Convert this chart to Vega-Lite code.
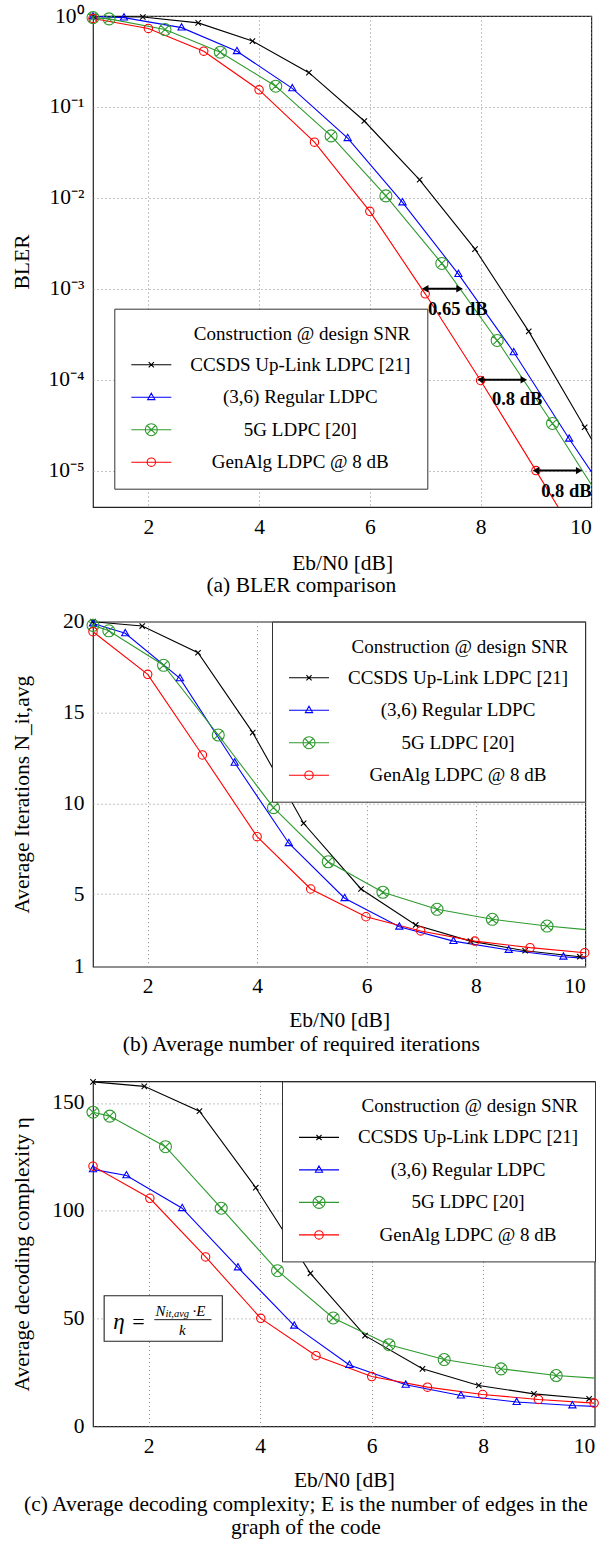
{
 "$schema": "https://vega.github.io/schema/vega-lite/v6.json",
 "padding": {"left": 10, "top": 4, "right": 0, "bottom": 0},
 "background": "white",
 "spacing": 12.7,
 "datasets": {
  "bler": [
   {"code": "CCSDS Up-Link LDPC [21]", "snr": 1, "val": 0.99},
   {"code": "CCSDS Up-Link LDPC [21]", "snr": 1.9, "val": 0.975},
   {"code": "CCSDS Up-Link LDPC [21]", "snr": 2.9, "val": 0.84},
   {"code": "CCSDS Up-Link LDPC [21]", "snr": 3.88, "val": 0.53},
   {"code": "CCSDS Up-Link LDPC [21]", "snr": 4.9, "val": 0.238},
   {"code": "CCSDS Up-Link LDPC [21]", "snr": 5.9, "val": 0.07},
   {"code": "CCSDS Up-Link LDPC [21]", "snr": 6.9, "val": 0.0158},
   {"code": "CCSDS Up-Link LDPC [21]", "snr": 7.9, "val": 0.00273},
   {"code": "CCSDS Up-Link LDPC [21]", "snr": 8.87, "val": 0.00034},
   {"code": "CCSDS Up-Link LDPC [21]", "snr": 9.88, "val": 0.00003},
   {"code": "CCSDS Up-Link LDPC [21]", "snr": 10.9, "val": 0.0000026},
   {"code": "(3,6) Regular LDPC", "snr": 1, "val": 0.99},
   {"code": "(3,6) Regular LDPC", "snr": 1.56, "val": 0.96},
   {"code": "(3,6) Regular LDPC", "snr": 2.6, "val": 0.745},
   {"code": "(3,6) Regular LDPC", "snr": 3.6, "val": 0.41},
   {"code": "(3,6) Regular LDPC", "snr": 4.6, "val": 0.16},
   {"code": "(3,6) Regular LDPC", "snr": 5.6, "val": 0.0453},
   {"code": "(3,6) Regular LDPC", "snr": 6.59, "val": 0.0089},
   {"code": "(3,6) Regular LDPC", "snr": 7.6, "val": 0.00145},
   {"code": "(3,6) Regular LDPC", "snr": 8.6, "val": 0.0002},
   {"code": "(3,6) Regular LDPC", "snr": 9.6, "val": 0.0000224},
   {"code": "(3,6) Regular LDPC", "snr": 10.6, "val": 0.0000028},
   {"code": "5G LDPC [20]", "snr": 1, "val": 0.96},
   {"code": "5G LDPC [20]", "snr": 1.29, "val": 0.93},
   {"code": "5G LDPC [20]", "snr": 2.3, "val": 0.71},
   {"code": "5G LDPC [20]", "snr": 3.3, "val": 0.4},
   {"code": "5G LDPC [20]", "snr": 4.3, "val": 0.169},
   {"code": "5G LDPC [20]", "snr": 5.3, "val": 0.048},
   {"code": "5G LDPC [20]", "snr": 6.29, "val": 0.0105},
   {"code": "5G LDPC [20]", "snr": 7.3, "val": 0.0019},
   {"code": "5G LDPC [20]", "snr": 8.3, "val": 0.00027},
   {"code": "5G LDPC [20]", "snr": 9.3, "val": 0.000033},
   {"code": "5G LDPC [20]", "snr": 10.3, "val": 0.0000036},
   {"code": "GenAlg LDPC @ 8 dB", "snr": 1, "val": 0.94},
   {"code": "GenAlg LDPC @ 8 dB", "snr": 2, "val": 0.73},
   {"code": "GenAlg LDPC @ 8 dB", "snr": 3, "val": 0.41},
   {"code": "GenAlg LDPC @ 8 dB", "snr": 4, "val": 0.154},
   {"code": "GenAlg LDPC @ 8 dB", "snr": 5, "val": 0.041},
   {"code": "GenAlg LDPC @ 8 dB", "snr": 6, "val": 0.0071},
   {"code": "GenAlg LDPC @ 8 dB", "snr": 7, "val": 0.00088},
   {"code": "GenAlg LDPC @ 8 dB", "snr": 8, "val": 0.000098},
   {"code": "GenAlg LDPC @ 8 dB", "snr": 9, "val": 0.00001},
   {"code": "GenAlg LDPC @ 8 dB", "snr": 10, "val": 0.000001}
  ],
  "gaps": [
   {"x1": 7.0, "x2": 7.62, "y": 0.001, "label": "0.65 dB", "lx": 7.59, "ly": 0.000598},
   {"x1": 8.0, "x2": 8.78, "y": 0.0001, "label": "0.8 dB", "lx": 8.66, "ly": 0.0000614},
   {"x1": 9.0, "x2": 9.78, "y": 0.00001, "label": "0.8 dB", "lx": 9.55, "ly": 0.000006}
  ],
  "iter": [
   {"code": "CCSDS Up-Link LDPC [21]", "snr": 1, "val": 20},
   {"code": "CCSDS Up-Link LDPC [21]", "snr": 1.9, "val": 19.76},
   {"code": "CCSDS Up-Link LDPC [21]", "snr": 2.92, "val": 18.29},
   {"code": "CCSDS Up-Link LDPC [21]", "snr": 3.92, "val": 13.89},
   {"code": "CCSDS Up-Link LDPC [21]", "snr": 4.85, "val": 8.9},
   {"code": "CCSDS Up-Link LDPC [21]", "snr": 5.9, "val": 5.28},
   {"code": "CCSDS Up-Link LDPC [21]", "snr": 6.9, "val": 3.3},
   {"code": "CCSDS Up-Link LDPC [21]", "snr": 7.9, "val": 2.41},
   {"code": "CCSDS Up-Link LDPC [21]", "snr": 8.9, "val": 1.88},
   {"code": "CCSDS Up-Link LDPC [21]", "snr": 9.9, "val": 1.55},
   {"code": "CCSDS Up-Link LDPC [21]", "snr": 10.9, "val": 1.35},
   {"code": "(3,6) Regular LDPC", "snr": 1, "val": 19.9},
   {"code": "(3,6) Regular LDPC", "snr": 1.59, "val": 19.36},
   {"code": "(3,6) Regular LDPC", "snr": 2.59, "val": 16.88},
   {"code": "(3,6) Regular LDPC", "snr": 3.59, "val": 12.23},
   {"code": "(3,6) Regular LDPC", "snr": 4.58, "val": 7.8},
   {"code": "(3,6) Regular LDPC", "snr": 5.6, "val": 4.77},
   {"code": "(3,6) Regular LDPC", "snr": 6.6, "val": 3.2},
   {"code": "(3,6) Regular LDPC", "snr": 7.59, "val": 2.41},
   {"code": "(3,6) Regular LDPC", "snr": 8.6, "val": 1.92},
   {"code": "(3,6) Regular LDPC", "snr": 9.6, "val": 1.55},
   {"code": "(3,6) Regular LDPC", "snr": 10.6, "val": 1.33},
   {"code": "5G LDPC [20]", "snr": 1, "val": 19.8},
   {"code": "5G LDPC [20]", "snr": 1.29, "val": 19.5},
   {"code": "5G LDPC [20]", "snr": 2.29, "val": 17.6},
   {"code": "5G LDPC [20]", "snr": 3.29, "val": 13.76},
   {"code": "5G LDPC [20]", "snr": 4.3, "val": 9.76},
   {"code": "5G LDPC [20]", "snr": 5.3, "val": 6.78},
   {"code": "5G LDPC [20]", "snr": 6.3, "val": 5.1},
   {"code": "5G LDPC [20]", "snr": 7.29, "val": 4.16},
   {"code": "5G LDPC [20]", "snr": 8.3, "val": 3.61},
   {"code": "5G LDPC [20]", "snr": 9.3, "val": 3.24},
   {"code": "5G LDPC [20]", "snr": 10.3, "val": 2.96},
   {"code": "GenAlg LDPC @ 8 dB", "snr": 1, "val": 19.45},
   {"code": "GenAlg LDPC @ 8 dB", "snr": 2, "val": 17.1},
   {"code": "GenAlg LDPC @ 8 dB", "snr": 3, "val": 12.66},
   {"code": "GenAlg LDPC @ 8 dB", "snr": 4, "val": 8.16},
   {"code": "GenAlg LDPC @ 8 dB", "snr": 4.98, "val": 5.28},
   {"code": "GenAlg LDPC @ 8 dB", "snr": 5.99, "val": 3.75},
   {"code": "GenAlg LDPC @ 8 dB", "snr": 6.99, "val": 2.97},
   {"code": "GenAlg LDPC @ 8 dB", "snr": 7.98, "val": 2.41},
   {"code": "GenAlg LDPC @ 8 dB", "snr": 8.99, "val": 2.05},
   {"code": "GenAlg LDPC @ 8 dB", "snr": 9.99, "val": 1.77}
  ],
  "cplx": [
   {"code": "CCSDS Up-Link LDPC [21]", "snr": 1, "val": 159.8},
   {"code": "CCSDS Up-Link LDPC [21]", "snr": 1.92, "val": 157.7},
   {"code": "CCSDS Up-Link LDPC [21]", "snr": 2.91, "val": 146.2},
   {"code": "CCSDS Up-Link LDPC [21]", "snr": 3.92, "val": 110.7},
   {"code": "CCSDS Up-Link LDPC [21]", "snr": 4.9, "val": 71},
   {"code": "CCSDS Up-Link LDPC [21]", "snr": 5.88, "val": 42.1},
   {"code": "CCSDS Up-Link LDPC [21]", "snr": 6.91, "val": 26.7},
   {"code": "CCSDS Up-Link LDPC [21]", "snr": 7.92, "val": 19.0},
   {"code": "CCSDS Up-Link LDPC [21]", "snr": 8.91, "val": 15.1},
   {"code": "CCSDS Up-Link LDPC [21]", "snr": 9.9, "val": 12.8},
   {"code": "CCSDS Up-Link LDPC [21]", "snr": 10.9, "val": 11.3},
   {"code": "(3,6) Regular LDPC", "snr": 1, "val": 119.2},
   {"code": "(3,6) Regular LDPC", "snr": 1.6, "val": 116.4},
   {"code": "(3,6) Regular LDPC", "snr": 2.6, "val": 101.2},
   {"code": "(3,6) Regular LDPC", "snr": 3.6, "val": 73.7},
   {"code": "(3,6) Regular LDPC", "snr": 4.61, "val": 46.7},
   {"code": "(3,6) Regular LDPC", "snr": 5.6, "val": 28.5},
   {"code": "(3,6) Regular LDPC", "snr": 6.61, "val": 19.3},
   {"code": "(3,6) Regular LDPC", "snr": 7.6, "val": 14.3},
   {"code": "(3,6) Regular LDPC", "snr": 8.6, "val": 11.3},
   {"code": "(3,6) Regular LDPC", "snr": 9.6, "val": 9.7},
   {"code": "(3,6) Regular LDPC", "snr": 10.6, "val": 8.7},
   {"code": "5G LDPC [20]", "snr": 1, "val": 145.7},
   {"code": "5G LDPC [20]", "snr": 1.3, "val": 143.9},
   {"code": "5G LDPC [20]", "snr": 2.3, "val": 129.7},
   {"code": "5G LDPC [20]", "snr": 3.3, "val": 101.2},
   {"code": "5G LDPC [20]", "snr": 4.31, "val": 72.2},
   {"code": "5G LDPC [20]", "snr": 5.31, "val": 50.3},
   {"code": "5G LDPC [20]", "snr": 6.31, "val": 37.9},
   {"code": "5G LDPC [20]", "snr": 7.3, "val": 31.0},
   {"code": "5G LDPC [20]", "snr": 8.32, "val": 26.7},
   {"code": "5G LDPC [20]", "snr": 9.31, "val": 23.6},
   {"code": "5G LDPC [20]", "snr": 10.3, "val": 21.9},
   {"code": "GenAlg LDPC @ 8 dB", "snr": 1, "val": 120.7},
   {"code": "GenAlg LDPC @ 8 dB", "snr": 2.02, "val": 105.8},
   {"code": "GenAlg LDPC @ 8 dB", "snr": 3.02, "val": 78.6},
   {"code": "GenAlg LDPC @ 8 dB", "snr": 4.01, "val": 50.1},
   {"code": "GenAlg LDPC @ 8 dB", "snr": 5.0, "val": 32.8},
   {"code": "GenAlg LDPC @ 8 dB", "snr": 6.0, "val": 23.1},
   {"code": "GenAlg LDPC @ 8 dB", "snr": 7.0, "val": 18.2},
   {"code": "GenAlg LDPC @ 8 dB", "snr": 7.99, "val": 14.8},
   {"code": "GenAlg LDPC @ 8 dB", "snr": 8.99, "val": 12.5},
   {"code": "GenAlg LDPC @ 8 dB", "snr": 9.99, "val": 10.8}
  ]
 },
 "vconcat": [
  {
   "width": 498.3, "height": 491,
   "title": {"text": "(a) BLER comparison", "offset": 0.5},
   "data": {"name": "bler"},
   "resolve": {"scale": {"color": "independent", "shape": "independent"}},
   "layer": [
    {
     "mark": {"type": "line", "strokeWidth": 1.1, "clip": true},
     "encoding": {
      "x": {"field": "snr", "type": "quantitative", "title": "Eb/N0 [dB]", "scale": {"domain": [1, 10], "nice": false, "zero": false}, "axis": {"values": [2, 4, 6, 8, 10], "format": "d", "titlePadding": 15}},
      "y": {"field": "val", "type": "quantitative", "title": "BLER", "scale": {"type": "log", "domain": [0.00000398, 1], "nice": false}, "axis": {"values": [1, 0.1, 0.01, 0.001, 0.0001, 0.00001], "titlePadding": 14.9, "labelExpr": "datum.value >= 0.5 ? '10⁰' : datum.value >= 0.05 ? '10⁻¹' : datum.value >= 0.005 ? '10⁻²' : datum.value >= 0.0005 ? '10⁻³' : datum.value >= 0.00005 ? '10⁻⁴' : '10⁻⁵'"}},
      "color": {"field": "code", "type": "nominal", "legend": null, "scale": {"domain": ["CCSDS Up-Link LDPC [21]", "(3,6) Regular LDPC", "5G LDPC [20]", "GenAlg LDPC @ 8 dB"], "range": ["#000000", "#0000ff", "#2f9a2f", "#ff0000"]}}
     }
    },
    {
     "transform": [{"filter": "datum.snr <= 10.01 && datum.val >= 0.000004"}],
     "mark": {"type": "point", "filled": false, "size": 144, "strokeWidth": 1.1, "opacity": 1},
     "encoding": {
      "x": {"field": "snr", "type": "quantitative", "title": "Eb/N0 [dB]"},
      "y": {"field": "val", "type": "quantitative", "title": "BLER", "scale": {"type": "log", "domain": [0.00000398, 1], "nice": false}},
      "color": {"field": "code", "type": "nominal", "legend": null, "scale": {"domain": ["CCSDS Up-Link LDPC [21]", "(3,6) Regular LDPC", "5G LDPC [20]", "GenAlg LDPC @ 8 dB"], "range": ["#000000", "#0000ff", "#2f9a2f", "#ff0000"]}},
      "shape": {"field": "code", "type": "nominal", "legend": null, "scale": {"domain": ["CCSDS Up-Link LDPC [21]", "(3,6) Regular LDPC", "5G LDPC [20]", "GenAlg LDPC @ 8 dB"], "range": ["M-0.45,-0.45L0.45,0.45M-0.45,0.45L0.45,-0.45", "M0,-0.65L0.6,0.4L-0.6,0.4Z", "M-1,0A1,1,0,1,0,1,0A1,1,0,1,0,-1,0ZM-0.7,-0.7L0.7,0.7M-0.7,0.7L0.7,-0.7", "M-0.7,0A0.7,0.7,0,1,0,0.7,0A0.7,0.7,0,1,0,-0.7,0Z"]}}
     }
    },
    {
     "transform": [{"filter": "false"}],
     "mark": {"type": "point", "filled": false, "strokeWidth": 1.1, "opacity": 1},
     "encoding": {
      "x": {"field": "snr", "type": "quantitative", "title": "Eb/N0 [dB]"},
      "y": {"field": "val", "type": "quantitative", "title": "BLER", "scale": {"type": "log", "domain": [0.00000398, 1], "nice": false}},
      "color": {"field": "code", "type": "nominal", "title": "Construction @ design SNR", "legend": {"orient": "none", "legendX": 21.3, "legendY": 292.7}, "scale": {"domain": ["CCSDS Up-Link LDPC [21]", "(3,6) Regular LDPC", "5G LDPC [20]", "GenAlg LDPC @ 8 dB"], "range": ["#000000", "#0000ff", "#2f9a2f", "#ff0000"]}},
      "shape": {"field": "code", "type": "nominal", "title": "Construction @ design SNR", "legend": {"orient": "none", "legendX": 21.3, "legendY": 292.7}, "scale": {"domain": ["CCSDS Up-Link LDPC [21]", "(3,6) Regular LDPC", "5G LDPC [20]", "GenAlg LDPC @ 8 dB"], "range": ["M-1,0H1M-0.13,-0.13L0.13,0.13M-0.13,0.13L0.13,-0.13", "M-1,0H1M0,-0.2L0.18,0.12L-0.18,0.12Z", "M-1,0H1M-0.3,0A0.3,0.3,0,1,0,0.3,0A0.3,0.3,0,1,0,-0.3,0ZM-0.21,-0.21L0.21,0.21M-0.21,0.21L0.21,-0.21", "M-1,0H1M-0.21,0A0.21,0.21,0,1,0,0.21,0A0.21,0.21,0,1,0,-0.21,0Z"]}}
     }
    },
    {
     "data": {"name": "gaps"},
     "mark": {"type": "rule", "strokeWidth": 2, "color": "black"},
     "encoding": {
      "x": {"field": "x1", "type": "quantitative", "title": "Eb/N0 [dB]"},
      "x2": {"field": "x2"},
      "y": {"field": "y", "type": "quantitative", "title": "BLER", "scale": {"type": "log", "domain": [0.00000398, 1], "nice": false}}
     }
    },
    {
     "data": {"name": "gaps"},
     "mark": {"type": "point", "shape": "triangle-left", "filled": true, "color": "black", "size": 55, "opacity": 1},
     "encoding": {
      "x": {"field": "x1", "type": "quantitative", "title": "Eb/N0 [dB]"},
      "y": {"field": "y", "type": "quantitative", "title": "BLER", "scale": {"type": "log", "domain": [0.00000398, 1], "nice": false}}
     }
    },
    {
     "data": {"name": "gaps"},
     "mark": {"type": "point", "shape": "triangle-right", "filled": true, "color": "black", "size": 55, "opacity": 1},
     "encoding": {
      "x": {"field": "x2", "type": "quantitative", "title": "Eb/N0 [dB]"},
      "y": {"field": "y", "type": "quantitative", "title": "BLER", "scale": {"type": "log", "domain": [0.00000398, 1], "nice": false}}
     }
    },
    {
     "data": {"name": "gaps"},
     "mark": {"type": "text", "font": "Liberation Serif", "fontSize": 18.5, "fontWeight": "bold", "align": "center", "baseline": "middle", "color": "black"},
     "encoding": {
      "x": {"field": "lx", "type": "quantitative", "title": "Eb/N0 [dB]"},
      "y": {"field": "ly", "type": "quantitative", "title": "BLER", "scale": {"type": "log", "domain": [0.00000398, 1], "nice": false}},
      "text": {"field": "label"}
     }
    }
   ]
  },
  {
   "width": 492.3, "height": 345,
   "title": {"text": ["(b) Average number of required iterations", ""], "offset": 2.8, "lineHeight": 6.6},
   "data": {"name": "iter"},
   "resolve": {"scale": {"color": "independent", "shape": "independent"}},
   "layer": [
    {
     "mark": {"type": "line", "strokeWidth": 1.1, "clip": true},
     "encoding": {
      "x": {"field": "snr", "type": "quantitative", "title": "Eb/N0 [dB]", "scale": {"domain": [1, 10], "nice": false, "zero": false}, "axis": {"values": [2, 4, 6, 8, 10], "format": "d", "titlePadding": 12.3}},
      "y": {"field": "val", "type": "quantitative", "title": "Average Iterations N_it,avg", "scale": {"domain": [1, 20], "nice": false, "zero": false}, "axis": {"values": [1, 5, 10, 15, 20], "titlePadding": 29}},
      "color": {"field": "code", "type": "nominal", "legend": null, "scale": {"domain": ["CCSDS Up-Link LDPC [21]", "(3,6) Regular LDPC", "5G LDPC [20]", "GenAlg LDPC @ 8 dB"], "range": ["#000000", "#0000ff", "#2f9a2f", "#ff0000"]}}
     }
    },
    {
     "transform": [{"filter": "datum.snr <= 10.01"}],
     "mark": {"type": "point", "filled": false, "size": 144, "strokeWidth": 1.1, "opacity": 1},
     "encoding": {
      "x": {"field": "snr", "type": "quantitative", "title": "Eb/N0 [dB]"},
      "y": {"field": "val", "type": "quantitative", "title": "Average Iterations N_it,avg"},
      "color": {"field": "code", "type": "nominal", "legend": null, "scale": {"domain": ["CCSDS Up-Link LDPC [21]", "(3,6) Regular LDPC", "5G LDPC [20]", "GenAlg LDPC @ 8 dB"], "range": ["#000000", "#0000ff", "#2f9a2f", "#ff0000"]}},
      "shape": {"field": "code", "type": "nominal", "legend": null, "scale": {"domain": ["CCSDS Up-Link LDPC [21]", "(3,6) Regular LDPC", "5G LDPC [20]", "GenAlg LDPC @ 8 dB"], "range": ["M-0.45,-0.45L0.45,0.45M-0.45,0.45L0.45,-0.45", "M0,-0.65L0.6,0.4L-0.6,0.4Z", "M-1,0A1,1,0,1,0,1,0A1,1,0,1,0,-1,0ZM-0.7,-0.7L0.7,0.7M-0.7,0.7L0.7,-0.7", "M-0.7,0A0.7,0.7,0,1,0,0.7,0A0.7,0.7,0,1,0,-0.7,0Z"]}}
     }
    },
    {
     "transform": [{"filter": "false"}],
     "mark": {"type": "point", "filled": false, "strokeWidth": 1.1, "opacity": 1},
     "encoding": {
      "x": {"field": "snr", "type": "quantitative", "title": "Eb/N0 [dB]"},
      "y": {"field": "val", "type": "quantitative", "title": "Average Iterations N_it,avg"},
      "color": {"field": "code", "type": "nominal", "title": "Construction @ design SNR", "legend": {"orient": "top-right"}, "scale": {"domain": ["CCSDS Up-Link LDPC [21]", "(3,6) Regular LDPC", "5G LDPC [20]", "GenAlg LDPC @ 8 dB"], "range": ["#000000", "#0000ff", "#2f9a2f", "#ff0000"]}},
      "shape": {"field": "code", "type": "nominal", "title": "Construction @ design SNR", "legend": {"orient": "top-right"}, "scale": {"domain": ["CCSDS Up-Link LDPC [21]", "(3,6) Regular LDPC", "5G LDPC [20]", "GenAlg LDPC @ 8 dB"], "range": ["M-1,0H1M-0.13,-0.13L0.13,0.13M-0.13,0.13L0.13,-0.13", "M-1,0H1M0,-0.2L0.18,0.12L-0.18,0.12Z", "M-1,0H1M-0.3,0A0.3,0.3,0,1,0,0.3,0A0.3,0.3,0,1,0,-0.3,0ZM-0.21,-0.21L0.21,0.21M-0.21,0.21L0.21,-0.21", "M-1,0H1M-0.21,0A0.21,0.21,0,1,0,0.21,0A0.21,0.21,0,1,0,-0.21,0Z"]}}
     }
    }
   ]
  },
  {
   "width": 501.7, "height": 345,
   "title": {"text": ["(c) Average decoding complexity; E is the number of edges in the", "graph of the code"], "offset": 3.5, "lineHeight": 23, "limit": 1000},
   "data": {"name": "cplx"},
   "resolve": {"scale": {"color": "independent", "shape": "independent"}},
   "layer": [
    {
     "mark": {"type": "line", "strokeWidth": 1.1, "clip": true},
     "encoding": {
      "x": {"field": "snr", "type": "quantitative", "title": "Eb/N0 [dB]", "scale": {"domain": [1, 10], "nice": false, "zero": false}, "axis": {"values": [2, 4, 6, 8, 10], "format": "d", "titlePadding": 12.3}},
      "y": {"field": "val", "type": "quantitative", "title": "Average decoding complexity η", "scale": {"domain": [0, 160], "nice": false}, "axis": {"values": [0, 50, 100, 150], "titlePadding": 18.5}},
      "color": {"field": "code", "type": "nominal", "legend": null, "scale": {"domain": ["CCSDS Up-Link LDPC [21]", "(3,6) Regular LDPC", "5G LDPC [20]", "GenAlg LDPC @ 8 dB"], "range": ["#000000", "#0000ff", "#2f9a2f", "#ff0000"]}}
     }
    },
    {
     "transform": [{"filter": "datum.snr <= 10.01"}],
     "mark": {"type": "point", "filled": false, "size": 144, "strokeWidth": 1.1, "opacity": 1},
     "encoding": {
      "x": {"field": "snr", "type": "quantitative", "title": "Eb/N0 [dB]"},
      "y": {"field": "val", "type": "quantitative", "title": "Average decoding complexity η"},
      "color": {"field": "code", "type": "nominal", "legend": null, "scale": {"domain": ["CCSDS Up-Link LDPC [21]", "(3,6) Regular LDPC", "5G LDPC [20]", "GenAlg LDPC @ 8 dB"], "range": ["#000000", "#0000ff", "#2f9a2f", "#ff0000"]}},
      "shape": {"field": "code", "type": "nominal", "legend": null, "scale": {"domain": ["CCSDS Up-Link LDPC [21]", "(3,6) Regular LDPC", "5G LDPC [20]", "GenAlg LDPC @ 8 dB"], "range": ["M-0.45,-0.45L0.45,0.45M-0.45,0.45L0.45,-0.45", "M0,-0.65L0.6,0.4L-0.6,0.4Z", "M-1,0A1,1,0,1,0,1,0A1,1,0,1,0,-1,0ZM-0.7,-0.7L0.7,0.7M-0.7,0.7L0.7,-0.7", "M-0.7,0A0.7,0.7,0,1,0,0.7,0A0.7,0.7,0,1,0,-0.7,0Z"]}}
     }
    },
    {
     "transform": [{"filter": "false"}],
     "mark": {"type": "point", "filled": false, "strokeWidth": 1.1, "opacity": 1},
     "encoding": {
      "x": {"field": "snr", "type": "quantitative", "title": "Eb/N0 [dB]"},
      "y": {"field": "val", "type": "quantitative", "title": "Average decoding complexity η"},
      "color": {"field": "code", "type": "nominal", "title": "Construction @ design SNR", "legend": {"orient": "top-right"}, "scale": {"domain": ["CCSDS Up-Link LDPC [21]", "(3,6) Regular LDPC", "5G LDPC [20]", "GenAlg LDPC @ 8 dB"], "range": ["#000000", "#0000ff", "#2f9a2f", "#ff0000"]}},
      "shape": {"field": "code", "type": "nominal", "title": "Construction @ design SNR", "legend": {"orient": "top-right"}, "scale": {"domain": ["CCSDS Up-Link LDPC [21]", "(3,6) Regular LDPC", "5G LDPC [20]", "GenAlg LDPC @ 8 dB"], "range": ["M-1,0H1M-0.13,-0.13L0.13,0.13M-0.13,0.13L0.13,-0.13", "M-1,0H1M0,-0.2L0.18,0.12L-0.18,0.12Z", "M-1,0H1M-0.3,0A0.3,0.3,0,1,0,0.3,0A0.3,0.3,0,1,0,-0.3,0ZM-0.21,-0.21L0.21,0.21M-0.21,0.21L0.21,-0.21", "M-1,0H1M-0.21,0A0.21,0.21,0,1,0,0.21,0A0.21,0.21,0,1,0,-0.21,0Z"]}}
     }
    },
    {
     "data": {"values": [{}]},
     "mark": {"type": "rect", "fill": "white", "stroke": "#222", "strokeWidth": 1.1},
     "encoding": {
      "x": {"datum": 1.2, "type": "quantitative"},
      "x2": {"datum": 3.32},
      "y": {"datum": 39.5, "type": "quantitative"},
      "y2": {"datum": 60.6}
     }
    },
    {
     "data": {"values": [{}]},
     "mark": {"type": "text", "font": "Liberation Serif", "fontSize": 23, "fontStyle": "italic", "align": "center", "baseline": "middle", "color": "black"},
     "encoding": {"x": {"datum": 1.464, "type": "quantitative"}, "y": {"datum": 48.4, "type": "quantitative"}, "text": {"value": "η"}}
    },
    {
     "data": {"values": [{}]},
     "mark": {"type": "text", "font": "Liberation Serif", "fontSize": 22, "align": "center", "baseline": "middle", "color": "black"},
     "encoding": {"x": {"datum": 1.814, "type": "quantitative"}, "y": {"datum": 48.4, "type": "quantitative"}, "text": {"value": "="}}
    },
    {
     "data": {"values": [{}]},
     "mark": {"type": "text", "font": "Liberation Serif", "fontSize": 15, "fontStyle": "italic", "align": "left", "baseline": "middle", "color": "black"},
     "encoding": {"x": {"datum": 2.12, "type": "quantitative"}, "y": {"datum": 53.7, "type": "quantitative"}, "text": {"value": "N"}}
    },
    {
     "data": {"values": [{}]},
     "mark": {"type": "text", "font": "Liberation Serif", "fontSize": 10.5, "fontStyle": "italic", "align": "left", "baseline": "middle", "color": "black"},
     "encoding": {"x": {"datum": 2.3, "type": "quantitative"}, "y": {"datum": 52.2, "type": "quantitative"}, "text": {"value": "it,avg"}}
    },
    {
     "data": {"values": [{}]},
     "mark": {"type": "text", "font": "Liberation Serif", "fontSize": 15, "fontStyle": "italic", "align": "left", "baseline": "middle", "color": "black"},
     "encoding": {"x": {"datum": 2.785, "type": "quantitative"}, "y": {"datum": 53.7, "type": "quantitative"}, "text": {"value": "·E"}}
    },
    {
     "data": {"values": [{}]},
     "mark": {"type": "rule", "color": "black", "strokeWidth": 0.9},
     "encoding": {"x": {"datum": 2.1, "type": "quantitative"}, "x2": {"datum": 3.125}, "y": {"datum": 49.5, "type": "quantitative"}}
    },
    {
     "data": {"values": [{}]},
     "mark": {"type": "text", "font": "Liberation Serif", "fontSize": 15, "fontStyle": "italic", "align": "center", "baseline": "middle", "color": "black"},
     "encoding": {"x": {"datum": 2.604, "type": "quantitative"}, "y": {"datum": 44.5, "type": "quantitative"}, "text": {"value": "k"}}
    }
   ]
  }
 ],
 "resolve": {
  "scale": {"x": "independent", "y": "independent", "color": "independent", "shape": "independent"},
  "legend": {"color": "independent", "shape": "independent"}
 },
 "config": {
  "font": "Liberation Serif",
  "view": {"stroke": "#222", "strokeWidth": 1.2},
  "axis": {
   "labelFont": "Liberation Serif", "titleFont": "Liberation Serif",
   "labelFontSize": 21.5, "titleFontSize": 21.5,
   "labelColor": "black", "titleColor": "black", "titleFontWeight": "normal",
   "domain": false, "ticks": false, "labelPadding": 9,
   "gridColor": "#888", "gridDash": [1, 3], "gridWidth": 1
  },
  "legend": {
   "titleFont": "Liberation Serif", "titleFontSize": 19, "titleFontWeight": "normal", "titleColor": "black",
   "titleAnchor": "end", "titleLimit": 1000, "titlePadding": 11,
   "labelFont": "Liberation Serif", "labelFontSize": 19, "labelColor": "black", "labelLimit": 1000,
   "labelAlign": "center", "labelOffset": 128,
   "symbolSize": 1600, "symbolStrokeWidth": 1.1, "clipHeight": 20, "rowPadding": 12.5,
   "padding": 16, "fillColor": "white", "strokeColor": "#333", "cornerRadius": 0, "offset": 0
  },
  "title": {"font": "Liberation Serif", "fontSize": 21.5, "fontWeight": "normal", "color": "black", "orient": "bottom", "anchor": "middle", "frame": "bounds"}
 }
}
